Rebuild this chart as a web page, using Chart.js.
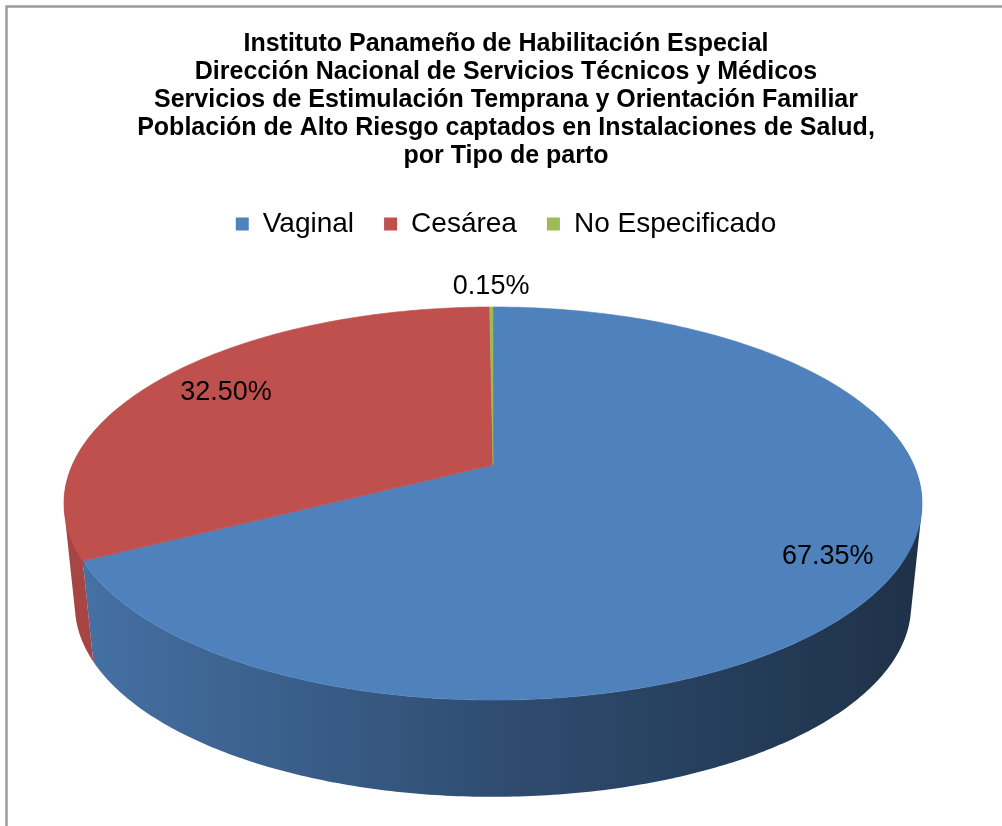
<!DOCTYPE html>
<html><head><meta charset="utf-8">
<script src="https://cdn.jsdelivr.net/npm/chart.js@4.4.1/dist/chart.umd.min.js"></script>
<style>html,body{margin:0;padding:0;background:#fff;}#wrap{width:1002px;height:826px;position:relative;}</style>
</head><body><div id="wrap"><canvas id="c" width="1002" height="826"></canvas></div>
<script>
const titleLines = [
  'Instituto Panameño de Habilitación Especial',
  'Dirección Nacional de Servicios Técnicos y Médicos',
  'Servicios de Estimulación Temprana y Orientación Familiar',
  'Población de Alto Riesgo captados en Instalaciones de Salud,',
  'por Tipo de parto'
];
const categories = ['Vaginal', 'Cesárea', 'No Especificado'];
const values = [67.35, 32.50, 0.15];
const colors = ['#4F81BD', '#C0504D', '#9BBB59'];
const labelRadius = [0.85, 0.80, 1.155];

// 3D perspective geometry (style)
const G = {cx: 493, cy: 465, A: 420.7, B: 189, p: 0.196, cy2: 568, A2: 410, B2: 184, xl: 64, xr: 922};
function P(a, f, bottom) {
  const u = Math.cos(a) * f, v = Math.sin(a) * f;
  const w = 1 - G.p * v;
  return bottom ? [G.cx + G.A2 * u / w, G.cy2 + G.B2 * v / w] : [G.cx + G.A * u / w, G.cy + G.B * v / w];
}
function hexRgb(h){return [parseInt(h.substr(1,2),16),parseInt(h.substr(3,2),16),parseInt(h.substr(5,2),16)];}
function shade(h,k){const c=hexRgb(h);return 'rgb('+c.map(x=>Math.round(x*k)).join(',')+')';}

const pie3d = {
  id: 'pie3d',
  beforeDraw(chart) {
    const ctx = chart.ctx;
    ctx.save();
    ctx.fillStyle = '#fff';
    ctx.fillRect(0, 0, chart.width, chart.height);
    ctx.strokeStyle = '#9c9c9c';
    ctx.lineWidth = 2.5;
    ctx.beginPath();
    ctx.moveTo(6.5, chart.height); ctx.lineTo(6.5, 6.5); ctx.lineTo(chart.width, 6.5);
    ctx.stroke();
    ctx.restore();
  },
  beforeDatasetsDraw(chart) {
    const ctx = chart.ctx;
    const meta = chart.getDatasetMeta(0);
    const arcs = meta.data.map(el => el.getProps(['startAngle', 'endAngle'], true));
    ctx.save();
    // side walls: union of small quads, each oriented the same way
    const lo = -0.3, hi = Math.PI + 0.3;
    arcs.forEach((a, i) => {
      const col = chart.data.datasets[0].backgroundColor[i];
      for (const k of [-2 * Math.PI, 0, 2 * Math.PI]) {
        const s = Math.max(a.startAngle, lo + k), e = Math.min(a.endAngle, hi + k);
        if (e <= s) continue;
        const n = Math.max(4, Math.ceil((e - s) * 90));
        ctx.beginPath();
        for (let j = 0; j < n; j++) {
          const t0 = s + (e - s) * j / n, t1 = s + (e - s) * (j + 1) / n;
          let pts = [P(t0, 1, false), P(t1, 1, false), P(t1, 1, true), P(t0, 1, true)];
          let ar = 0;
          for (let m = 0; m < 4; m++) { const p1 = pts[m], p2 = pts[(m + 1) % 4]; ar += p1[0] * p2[1] - p2[0] * p1[1]; }
          if (ar < 0) pts = pts.reverse();
          ctx.moveTo(pts[0][0], pts[0][1]);
          for (let m = 1; m < 4; m++) ctx.lineTo(pts[m][0], pts[m][1]);
          ctx.closePath();
        }
        const g = ctx.createLinearGradient(G.xl, 0, G.xr, 0);
        g.addColorStop(0, shade(col, 0.88));
        g.addColorStop(0.5, shade(col, 0.6));
        g.addColorStop(1, shade(col, 0.38));
        ctx.fillStyle = g;
        ctx.fill('nonzero');
      }
    });
    // top faces
    arcs.forEach((a, i) => {
      const col = chart.data.datasets[0].backgroundColor[i];
      const s = a.startAngle, e = a.endAngle;
      const n = Math.max(2, Math.ceil((e - s) * 80));
      ctx.beginPath();
      const c0 = P(0, 0, false);
      ctx.moveTo(c0[0], c0[1]);
      for (let j = 0; j <= n; j++) { const t = s + (e - s) * j / n; const q = P(t, 1, false); ctx.lineTo(q[0], q[1]); }
      ctx.closePath();
      ctx.fillStyle = col;
      ctx.fill();
      ctx.strokeStyle = col; ctx.lineWidth = 0.6; ctx.stroke();
    });
    // labels
    ctx.fillStyle = '#000';
    ctx.font = '27px "Liberation Sans", Arial, sans-serif';
    ctx.textAlign = 'center';
    ctx.textBaseline = 'middle';
    arcs.forEach((a, i) => {
      const mid = (a.startAngle + a.endAngle) / 2;
      const q = P(mid, labelRadius[i], false);
      ctx.fillText(values[i].toFixed(2) + '%', q[0], q[1]);
    });
    ctx.restore();
    return false;
  }
};

new Chart(document.getElementById('c'), {
  type: 'pie',
  data: {
    labels: categories,
    datasets: [{ data: values, backgroundColor: colors, borderColor: colors, borderWidth: 0 }]
  },
  plugins: [pie3d],
  options: {
    responsive: false,
    animation: false,
    layout: { padding: { left: 10, right: 0, top: 0, bottom: 20 } },
    plugins: {
      tooltip: { enabled: false },
      title: {
        display: true,
        text: titleLines,
        color: '#000',
        font: { family: '"Liberation Sans", Arial, sans-serif', size: 25, weight: 'bold', lineHeight: 28 / 25 },
        padding: { top: 30, bottom: 10 }
      },
      legend: {
        display: true,
        position: 'top',
        labels: {
          color: '#000',
          font: { family: '"Liberation Sans", Arial, sans-serif', size: 28 },
          boxWidth: 13, boxHeight: 13, padding: 30
        }
      }
    }
  }
});
</script>
</body></html>
